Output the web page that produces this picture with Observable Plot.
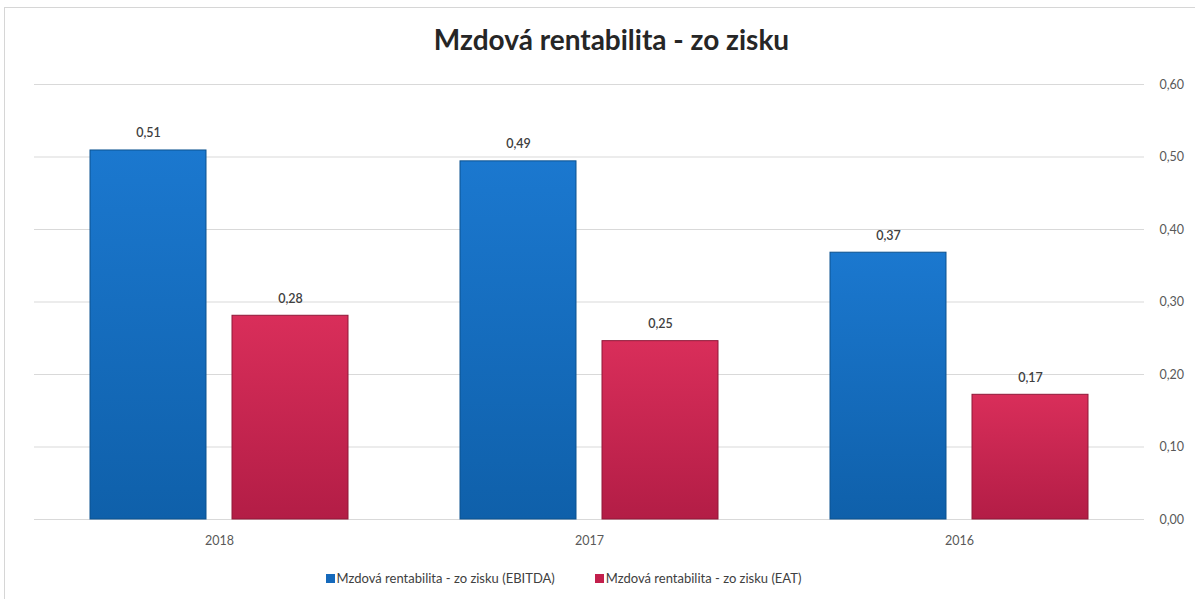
<!DOCTYPE html>
<html><head><meta charset="utf-8">
<script src="https://cdn.jsdelivr.net/npm/d3@7"></script>
<script src="https://cdn.jsdelivr.net/npm/@observablehq/plot@0.6"></script>
<style>
html,body{margin:0;padding:0;background:#fff;}
body{width:1195px;height:599px;position:relative;overflow:hidden;font-family:Lato,"Open Sans",sans-serif;}
#frame{position:absolute;left:4px;top:7px;width:1300px;height:700px;border-top:1px solid #d6d6d6;border-left:1px solid #d6d6d6;}
#title{position:absolute;left:14px;width:1195px;top:23px;text-align:center;font-size:28px;font-weight:700;color:#262626;line-height:32px;}
#chart{position:absolute;left:0;top:70px;}
#legend{position:absolute;left:-34px;width:1195px;top:569px;display:flex;justify-content:center;gap:40px;font-size:13px;color:#404040;line-height:18px;}
#legend .sw{display:inline-block;width:9px;height:9px;margin-right:2px;vertical-align:0px;}
</style></head>
<body>
<div id="frame"></div>
<div id="title">Mzdová rentabilita - zo zisku</div>
<div id="chart"></div>
<div id="legend"></div>
<script>
const years = ["2018", "2017", "2016"];
const seriesNames = ["Mzdová rentabilita - zo zisku (EBITDA)", "Mzdová rentabilita - zo zisku (EAT)"];
const ebitda = [0.509, 0.494, 0.368];
const eat = [0.281, 0.246, 0.172];
const yTicks = [0, 0.1, 0.2, 0.3, 0.4, 0.5, 0.6];
const seriesColors = ["#1569bb", "#c21f4c"];

const fmt = d => d.toFixed(2).replace(".", ",");

const data = [];
years.forEach((y, i) => {
  data.push({year: y, series: seriesNames[0], value: ebitda[i]});
  data.push({year: y, series: seriesNames[1], value: eat[i]});
});

const chart = Plot.plot({
  width: 1195,
  height: 490,
  marginTop: 14,
  marginBottom: 41,
  marginLeft: 33,
  marginRight: 50,
  style: {fontFamily: "Lato, 'Open Sans', sans-serif", fontSize: "12.5px", color: "#595959", background: "transparent"},
  fx: {domain: years, paddingInner: 0, paddingOuter: 0, axis: "bottom", tickSize: 0, tickPadding: 17, label: null},
  x: {domain: seriesNames, paddingInner: 0.182, paddingOuter: 0.385, axis: null},
  y: {domain: [0, 0.6], axis: "right", ticks: yTicks, tickFormat: fmt, tickSize: 0, tickPadding: 15, label: null},
  color: {domain: seriesNames, range: ["url(#gBlue)", "url(#gRed)"]},
  marks: [
    Plot.ruleY(yTicks, {stroke: "#d9d9d9", strokeWidth: 1}),
    Plot.barY(data, {fx: "year", x: "series", y: "value", fill: "series",
      stroke: d => d.series === seriesNames[0] ? "#0c528f" : "#8f1838", strokeWidth: 1}),
    Plot.text(data, {fx: "year", x: "series", y: "value", text: d => fmt(d.value), dy: -17,
      fill: "#404040", fontSize: 12.5, fontWeight: 600})
  ]
});

const defs = document.createElementNS("http://www.w3.org/2000/svg", "defs");
defs.innerHTML = `
<linearGradient id="gBlue" x1="0" y1="0" x2="0" y2="1">
  <stop offset="0" stop-color="#1b78cf"/><stop offset="1" stop-color="#0f60aa"/>
</linearGradient>
<linearGradient id="gRed" x1="0" y1="0" x2="0" y2="1">
  <stop offset="0" stop-color="#d92e5a"/><stop offset="1" stop-color="#b31d46"/>
</linearGradient>`;
chart.insertBefore(defs, chart.firstChild);
document.getElementById("chart").appendChild(chart);

const legend = document.getElementById("legend");
seriesNames.forEach((name, i) => {
  const item = document.createElement("div");
  item.innerHTML = `<span class="sw" style="background:${seriesColors[i]}"></span>${name}`;
  legend.appendChild(item);
});
</script>
</body></html>
